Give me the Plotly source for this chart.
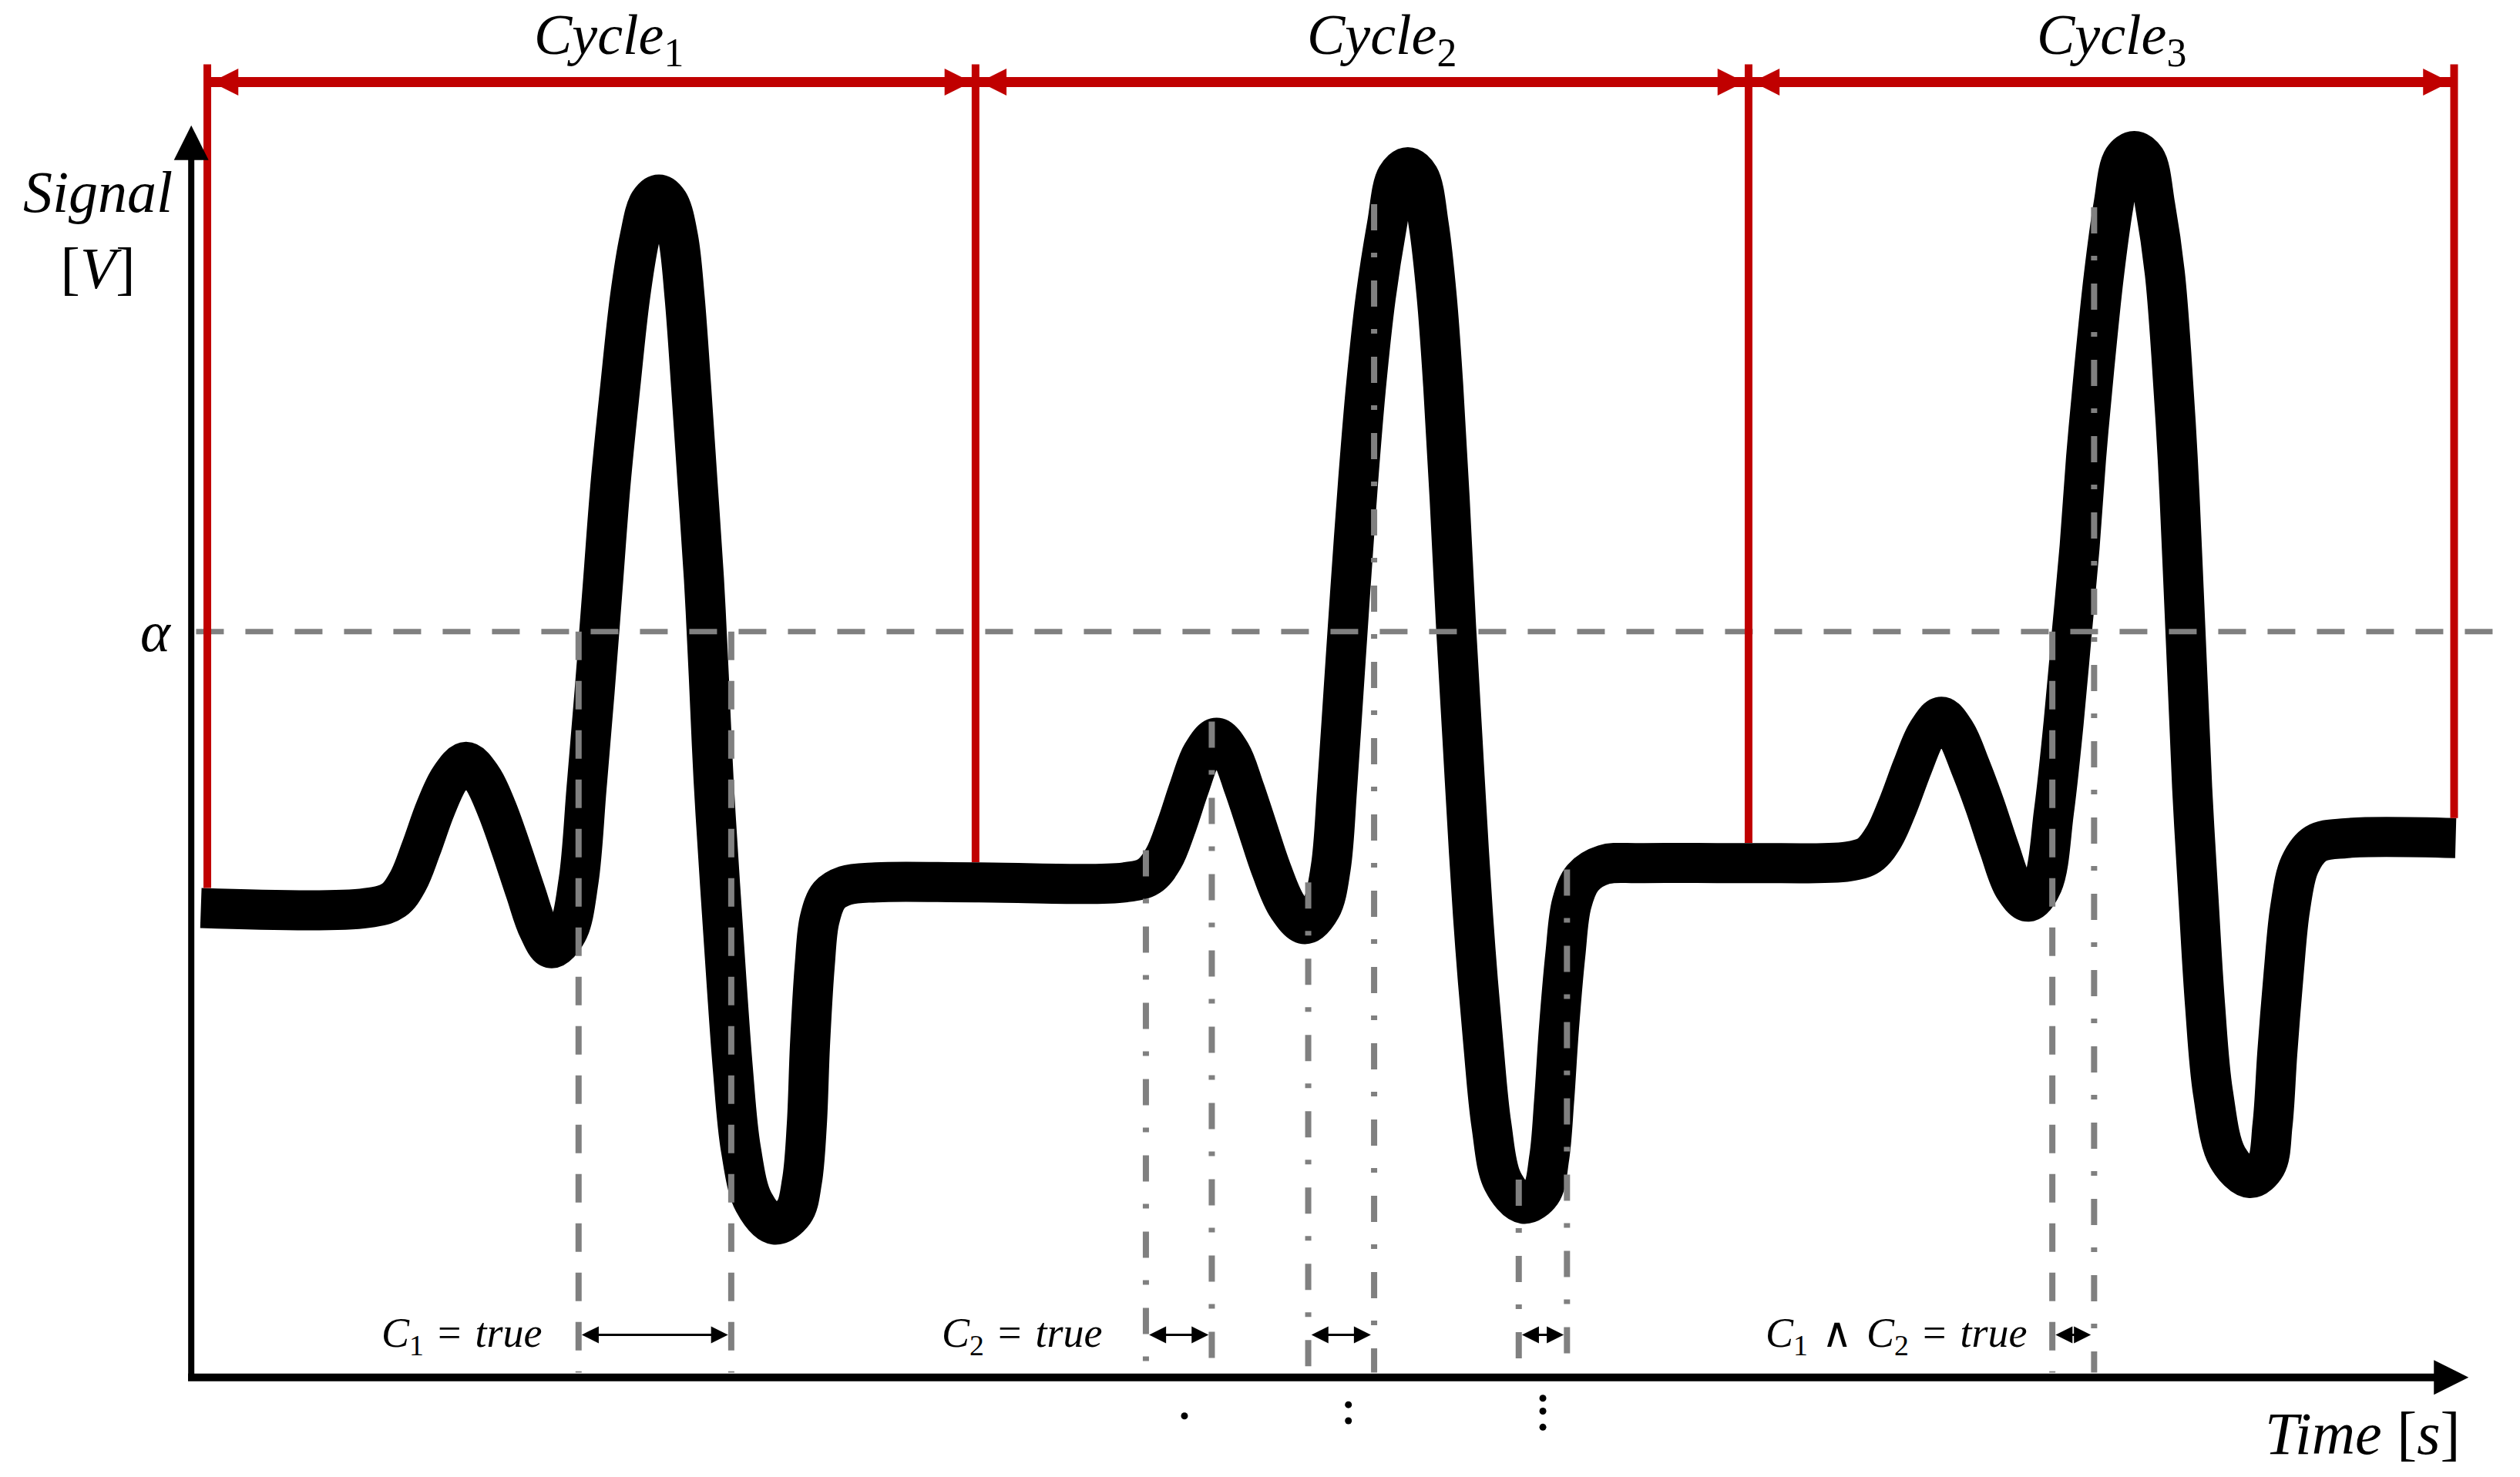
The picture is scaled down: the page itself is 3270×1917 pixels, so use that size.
import plotly.graph_objects as go

# ---------------- data (time units, signal units) ----------------
# Signal control points (cycle 1, cycle 2, cycle 3)
sig_t = [0.5, 10.8, 12.5, 13.4, 14.2, 15.1, 16.0, 17.0, 18.0, 18.9, 19.8, 20.7, 21.5, 22.3,
         23.3, 24.0, 24.5, 25.0, 25.5, 26.0, 26.6, 27.2, 27.8, 28.4, 29.0, 29.6, 30.2, 30.6, 31.0,
         31.4, 31.8, 32.1, 32.4, 32.8, 33.2, 33.6, 34.1, 34.9, 36.2, 37.4, 37.9, 38.2, 38.4, 38.7,
         39.0, 39.6, 40.6, 42.5, 48.7,
         58.0, 59.5, 60.4, 61.2, 62.0, 62.8, 63.7, 64.6, 65.4, 66.2, 67.1, 68.1, 69.2,
         70.2, 70.8, 71.2, 71.6, 72.0, 72.5, 73.0, 73.6, 74.3, 74.9, 75.6, 76.3, 76.9, 77.4, 77.8,
         78.2, 78.6, 79.0, 79.4, 79.8, 80.3, 80.8, 81.5, 82.8, 83.9, 84.4, 84.7, 85.0, 85.4, 85.8,
         86.5, 87.8, 90.0, 96.8,
         103.0, 104.3, 105.2, 106.1, 107.0, 107.9, 108.8, 109.7, 110.6, 111.5, 112.4, 113.3, 114.2,
         115.1, 115.8, 116.4, 116.9, 117.4, 117.8, 118.3, 118.9, 119.5, 120.1, 120.8, 121.5, 122.1,
         122.7, 123.1, 123.5, 123.8, 124.1, 124.4, 124.8, 125.2, 125.7, 126.6, 128.0, 129.0, 129.4,
         129.7, 130.1, 130.5, 131.1, 132.1, 134.0, 140.8]
sig_v = [29.2, 29.2, 29.7, 30.9, 32.9, 35.4, 37.3, 38.3, 37.3, 35.4, 32.9, 30.2, 27.9, 26.7,
         27.7, 30.9, 36.7, 42.7, 49.2, 55.7, 61.7, 67.2, 70.9, 73.1, 73.6, 73.1, 70.9, 67.2, 61.7,
         55.7, 49.7, 43.7, 37.2, 30.7, 24.7, 19.2, 14.2, 10.9, 9.5, 10.3, 12.2, 15.7, 20.7, 25.7,
         28.5, 30.0, 30.6, 30.8, 30.8,
         30.8, 31.2, 32.3, 34.3, 36.7, 38.8, 39.8, 38.8, 36.7, 34.3, 31.6, 29.3, 28.2,
         29.2, 31.7, 36.7, 42.7, 48.7, 55.7, 61.7, 67.2, 71.7, 74.7, 75.3, 74.7, 71.7, 67.2, 61.7,
         54.7, 46.7, 39.7, 32.7, 26.7, 20.7, 15.7, 12.2, 10.8, 11.5, 13.7, 17.2, 21.7, 26.3, 29.5,
         31.1, 31.9, 32.0, 32.0,
         32.1, 32.5, 33.6, 35.6, 38.0, 40.1, 41.1, 40.1, 38.0, 35.6, 32.9, 30.5, 29.6,
         30.7, 35.2, 40.7, 46.2, 51.7, 57.2, 62.7, 68.5, 72.9, 75.8, 76.3, 75.8, 72.9,
         68.7, 63.7, 57.2, 50.7, 43.7, 36.7, 29.7, 23.2, 17.7, 13.7, 12.4, 13.2, 15.7,
         20.2, 25.2, 29.2, 31.9, 33.2, 33.55, 33.55]

# cycle boundaries
cycle_t = [0.9, 48.7, 96.8, 140.7]
cycle_bottom_v = [30.45, 32.05, 33.25, 34.8]
cycle_top_v = 81.7
cycle_arrow_v = 80.6
cycle_labels = ["<i>Cycle</i><sub>1</sub>", "<i>Cycle</i><sub>2</sub>", "<i>Cycle</i><sub>3</sub>"]
cycle_label_t = [25.9, 74.0, 119.4]
cycle_label_v = 83.3

# threshold
alpha_v = 46.4
alpha_t0, alpha_t1 = 0.2, 143.5

# vertical guide lines
dashed_t = [24.0, 33.5, 115.7]
dashed_top = [46.4, 46.4, 46.4]
dashdot_t = [59.3, 63.4, 69.4, 73.5, 82.5, 85.5, 118.3]
dashdot_top = [32.8, 40.8, 30.8, 73.0, 12.3, 31.6, 72.8]

# intervals where conditions hold
interval_left = [24.0, 59.3, 69.4, 82.5, 115.7]
interval_right = [33.5, 63.4, 73.5, 85.5, 118.3]
interval_v = 2.65

cond_labels = ["<i>C</i><sub>1</sub>\u2004=\u2004<i>true</i>",
               "<i>C</i><sub>2</sub>\u2004=\u2004<i>true</i>",
               "<i>C</i><sub>1</sub>\u2004\u2227\u2004<i>C</i><sub>2</sub>\u2004=\u2004<i>true</i>"]
cond_t = [16.7, 51.6, 106.0]
cond_v = 2.6

# dots below the time axis
dot_t = [61.7, 71.9, 71.9, 84.0, 84.0, 84.0]
dot_v = [-2.4, -1.7, -2.7, -1.3, -2.1, -3.1]

# axes
t_axis_end = 141.6
v_axis_end = 77.9

RED = "#C00000"
GRAY = "#808080"
FONT = "Liberation Serif"

fig = go.Figure()

def add_line(xs, ys, color, width, dash="solid", shape="linear"):
    fig.add_trace(go.Scatter(x=xs, y=ys, mode="lines", hoverinfo="skip",
                             line=dict(color=color, width=width, dash=dash, shape=shape, smoothing=1.0)))

# signal
add_line(sig_t, sig_v, "black", 52, shape="spline")

# threshold
add_line([alpha_t0, alpha_t1], [alpha_v, alpha_v], GRAY, 7, dash="36px,28px")

# guide lines
xs, ys = [], []
for t, top in zip(dashed_t, dashed_top):
    xs += [t, t, None]; ys += [top, 0.3, None]
add_line(xs, ys, GRAY, 8, dash="37px,27px")
xs, ys = [], []
for t, top in zip(dashdot_t, dashdot_top):
    xs += [t, t, None]; ys += [top, 0.3, None]
add_line(xs, ys, GRAY, 8, dash="34px,29px,6px,30px")

# red cycle boundaries
xs, ys = [], []
for t, b in zip(cycle_t, cycle_bottom_v):
    xs += [t, t, None]; ys += [cycle_top_v, b, None]
add_line(xs, ys, RED, 10)
add_line([cycle_t[0], cycle_t[-1]], [cycle_arrow_v] * 2, RED, 13)
off = 0.25
fig.add_trace(go.Scatter(x=[t + off for t in cycle_t[:-1]], y=[cycle_arrow_v] * 3, mode="markers",
                         hoverinfo="skip", marker=dict(symbol="arrow-left", size=35, color=RED, line_width=0)))
fig.add_trace(go.Scatter(x=[t - off for t in cycle_t[1:]], y=[cycle_arrow_v] * 3, mode="markers",
                         hoverinfo="skip", marker=dict(symbol="arrow-right", size=35, color=RED, line_width=0)))

# interval arrows
xs, ys = [], []
for a, b in zip(interval_left, interval_right):
    xs += [a + 0.5, b - 0.5, None]; ys += [interval_v, interval_v, None]
add_line(xs, ys, "black", 3)
goff = 0.2
fig.add_trace(go.Scatter(x=[a + goff for a in interval_left], y=[interval_v] * len(interval_left),
                         mode="markers", hoverinfo="skip",
                         marker=dict(symbol="arrow-left", size=22, color="black", line_width=0)))
fig.add_trace(go.Scatter(x=[b - goff for b in interval_right], y=[interval_v] * len(interval_right),
                         mode="markers", hoverinfo="skip",
                         marker=dict(symbol="arrow-right", size=22, color="black", line_width=0)))

# axes
add_line([-0.1, -0.1], [0, v_axis_end - 1.2], "black", 8)
add_line([-0.3, t_axis_end - 1.2], [0, 0], "black", 10)
fig.add_trace(go.Scatter(x=[-0.1], y=[v_axis_end], mode="markers", hoverinfo="skip",
                         marker=dict(symbol="arrow-up", size=45, color="black", line_width=0)))
fig.add_trace(go.Scatter(x=[t_axis_end], y=[0], mode="markers", hoverinfo="skip",
                         marker=dict(symbol="arrow-right", size=45, color="black", line_width=0)))

# dots
fig.add_trace(go.Scatter(x=dot_t, y=dot_v, mode="markers", hoverinfo="skip",
                         marker=dict(symbol="circle", size=9, color="black", line_width=0)))

ann = []
for lab, t in zip(cycle_labels, cycle_label_t):
    ann.append(dict(x=t, y=cycle_label_v, text=lab, font=dict(family=FONT, size=74, color="black")))
for lab, t in zip(cond_labels, cond_t):
    ann.append(dict(x=t, y=cond_v, text=lab, font=dict(family=FONT, size=54, color="black")))
ann.append(dict(x=-5.9, y=71.4, text="<i>Signal</i><br>[<i>V</i>]", align="center",
                font=dict(family=FONT, size=76, color="black")))
ann.append(dict(x=-2.3, y=alpha_v, text="<i>\u03b1</i>", font=dict(family=FONT, size=74, color="black")))
ann.append(dict(x=135.0, y=-3.5, text="<i>Time</i> [<i>s</i>]", font=dict(family=FONT, size=78, color="black")))
for a in ann:
    a.update(xref="x", yref="y", showarrow=False, xanchor="center", yanchor="middle")

fig.update_layout(
    width=3270, height=1917,
    margin=dict(l=0, r=0, t=0, b=0),
    paper_bgcolor="white", plot_bgcolor="white",
    showlegend=False,
    xaxis=dict(range=[-12, 144.8], visible=False, fixedrange=True),
    yaxis=dict(range=[-6.2, 85.7], visible=False, fixedrange=True),
    annotations=ann,
)

fig.write_html("out.html", config={"displayModeBar": False},
               post_script="document.body.style.margin='0';document.body.style.overflow='hidden';")
